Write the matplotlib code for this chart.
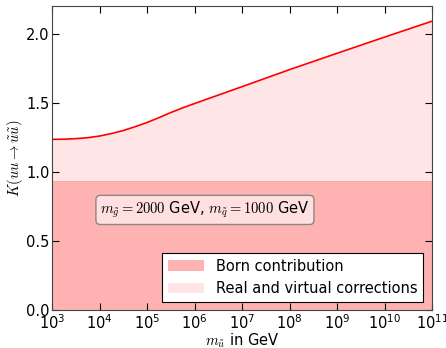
import numpy as np
import matplotlib
matplotlib.use("Agg")
import matplotlib.pyplot as plt

plt.rcParams["mathtext.fontset"] = "cm"
plt.rcParams["font.size"] = 10.5

# data
log_m = [3, 3.25, 3.5, 3.75, 4, 4.25, 4.5, 4.75, 5, 5.25, 5.5, 5.75,
         6, 7, 8, 9, 10, 11]
k_total = [1.236, 1.237, 1.241, 1.248, 1.26, 1.278, 1.30, 1.328, 1.358,
           1.393, 1.430, 1.464, 1.495, 1.617, 1.74, 1.858, 1.975, 2.09]
k_born = 0.935

m = 10.0 ** np.array(log_m)
k_total = np.array(k_total)

fig = plt.figure(figsize=(4.46, 3.48), dpi=100)
ax = fig.add_axes([0.117, 0.108, 0.852, 0.875])

ax.fill_between(m, 0, k_born, color="red", alpha=0.3, lw=0,
                label="Born contribution")
ax.fill_between(m, k_born, k_total, color="red", alpha=0.1, lw=0,
                label="Real and virtual corrections")
ax.plot(m, k_total, color="red", lw=1.2)

ax.set_xscale("log")
ax.set_xlim(1e3, 1e11)
ax.set_ylim(0, 2.2)
ax.set_yticks([0.0, 0.5, 1.0, 1.5, 2.0])
ax.set_xticks([10.0 ** i for i in range(3, 12)])
ax.tick_params(which="both", direction="in", top=True, right=True, pad=2)
ax.tick_params(which="major", length=5)
ax.tick_params(which="minor", length=2.5)
for s in ax.spines.values():
    s.set_color("#444444")

ax.set_xlabel(r"$m_{\tilde{u}}$ in GeV", labelpad=0)
ax.set_ylabel(r"$K(uu\to\tilde{u}\tilde{u})$", labelpad=1)

ax.text(0.402, 0.33, r"$m_{\tilde{g}}=2000$ GeV, $m_{\tilde{q}}=1000$ GeV",
        transform=ax.transAxes, ha="center", va="center",
        bbox=dict(boxstyle="round,pad=0.3", fc="#ffe0e0", ec="#888888"))

leg = ax.legend(loc="lower right", fancybox=False, framealpha=1,
                edgecolor="black", handlelength=2.5,
                borderaxespad=0.6, fontsize=10.5)
leg.get_frame().set_linewidth(0.8)

fig.savefig("out.png", dpi=100)
